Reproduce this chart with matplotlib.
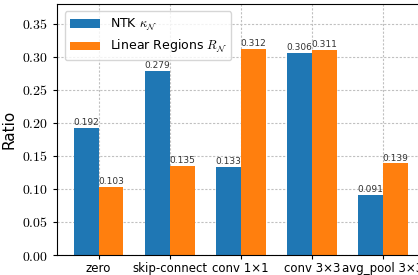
import numpy as np
import matplotlib.pyplot as plt

plt.rcParams['mathtext.fontset'] = 'cm'

ops = ["zero", "skip-connect", "conv 1\u00d71", "conv 3\u00d73", "avg_pool 3\u00d73"]
ntk = [0.192, 0.279, 0.133, 0.306, 0.091]
lr = [0.103, 0.135, 0.312, 0.311, 0.139]

fig = plt.figure(figsize=(4.18, 2.75), dpi=100)
ax = fig.add_axes([0.1364, 0.0727, 0.879, 0.913])

x = np.arange(len(ops))
w = 0.35
b1 = ax.bar(x - w / 2, ntk, w, label=r"NTK $\kappa_{\mathcal{N}}$", zorder=2)
b2 = ax.bar(x + w / 2, lr, w, label=r"Linear Regions $R_{\mathcal{N}}$", zorder=2)

for bars in (b1, b2):
    for b in bars:
        ax.text(b.get_x() + b.get_width() / 2, b.get_height() + 0.001,
                "%.3f" % b.get_height(), ha='center', va='bottom', fontsize=6.5,
                color='#333333', zorder=3)

ax.set_xticks(x)
ax.set_xticklabels(ops, fontsize=8.5)
ax.tick_params(axis='x', pad=2, length=3)
ax.tick_params(axis='y', length=3)
ax.set_ylim(0, 0.38)
ax.set_yticks(np.arange(0, 0.36, 0.05))
ax.set_yticklabels(["$%.2f$" % v for v in np.arange(0, 0.36, 0.05)], fontsize=10)
ax.set_ylabel("Ratio", fontsize=11)
ax.grid(True, linestyle=(0, (2, 1.5)), color='#c0c0c0', linewidth=0.8, zorder=0)
ax.set_axisbelow(True)
ax.legend(loc='upper left', fontsize=9, handlelength=2.4, labelspacing=0.45,
          borderaxespad=0.6)

fig.savefig("out.png", dpi=100)
